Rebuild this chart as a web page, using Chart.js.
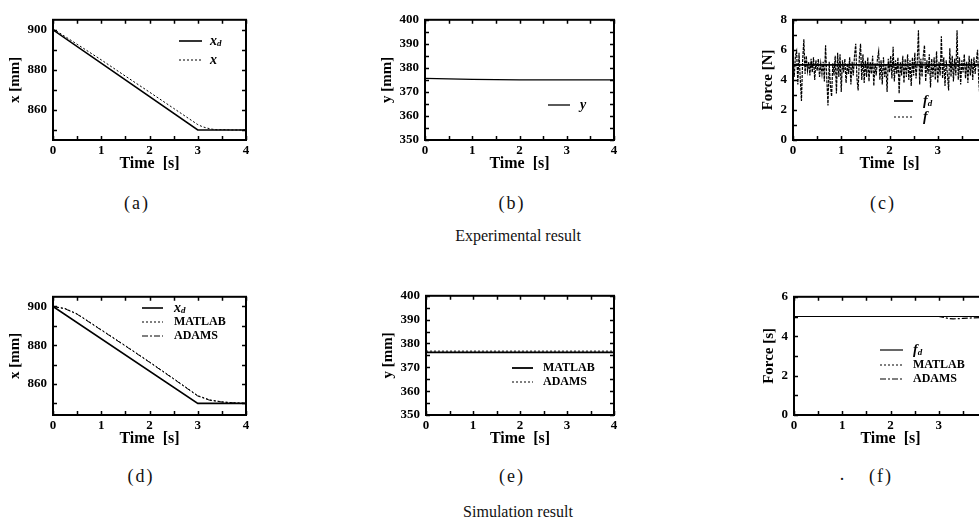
<!DOCTYPE html>
<html>
<head>
<meta charset="utf-8">
<script src="https://cdn.jsdelivr.net/npm/chart.js@4/dist/chart.umd.min.js"></script>
<style>
  html, body { margin: 0; padding: 0; }
  body { width: 979px; height: 530px; overflow: hidden; background: #fff; position: relative; }
  .wrap { position: absolute; }
  .wrap canvas { display: block; }
  .cap { position: absolute; transform: translate(-50%, -50%); font-family: "Liberation Serif", serif; color: #111; white-space: nowrap; }
  .sub { font-size: 18px; letter-spacing: 2px; }
  .grp { font-size: 16px; }
</style>
</head>
<body>
<div id="ca" class="wrap"></div>
<div id="cb" class="wrap"></div>
<div id="cc" class="wrap"></div>
<div id="cd" class="wrap"></div>
<div id="ce" class="wrap"></div>
<div id="cf" class="wrap"></div>

<div class="cap sub" style="left:137px;top:203px">(a)</div>
<div class="cap sub" style="left:512px;top:203px">(b)</div>
<div class="cap sub" style="left:883px;top:203px">(c)</div>
<div class="cap grp" style="left:518px;top:236px">Experimental result</div>
<div class="cap sub" style="left:141px;top:476px">(d)</div>
<div class="cap sub" style="left:512px;top:476px">(e)</div>
<div class="cap sub" style="left:843px;top:474px">.</div>
<div class="cap sub" style="left:881px;top:476px">(f)</div>
<div class="cap grp" style="left:518px;top:512px">Simulation result</div>

<script>
// ---------------- DATA ----------------
// (a) experimental x
const timeXdA = [0, 3, 4];
const xdA = [900, 850, 850];
const timeXA = [0, 0.5, 1, 1.5, 2, 2.5, 3, 3.1, 3.2, 3.3, 3.4, 3.5, 3.7, 4];
const xA = [900.5, 892.8, 885.0, 876.9, 868.9, 860.8, 852.7, 851.6, 850.9, 850.4, 850.1, 850.2, 850.0, 850.0];

// (b) experimental y
const timeYB = [0, 0.5, 1, 1.5, 2, 3, 4];
const yB = [375.6, 375.4, 375.2, 375.1, 375.0, 375.0, 375.0];

// (c) experimental force
const timeFdC = [0, 4];
const fdC = [5, 5];
const forceTimeStep = 0.025;
const fC = [
  4.9, 4.2, 5.6, 5.9, 3.7, 5.8, 4.1, 2.6, 5.3, 6.7,
  4.4, 5.6, 4.6, 5.2, 4.3, 5.4, 4.5, 5.5, 4.0, 5.3,
  4.6, 5.4, 4.2, 5.1, 4.4, 5.2, 3.9, 6.3, 4.1, 2.3,
  5.2, 3.6, 2.9, 5.1, 4.3, 5.6, 3.1, 5.8, 4.2, 5.7,
  3.2, 5.3, 4.5, 5.4, 3.8, 5.1, 4.4, 5.5, 3.7, 5.2,
  4.3, 5.6, 6.4, 4.1, 3.3, 5.5, 6.4, 4.0, 5.7, 3.8,
  5.3, 4.2, 5.5, 3.9, 5.2, 4.4, 5.6, 3.6, 5.1, 4.3,
  5.4, 5.9, 4.0, 5.3, 3.7, 5.5, 4.2, 5.0, 3.2, 5.4,
  4.5, 5.6, 4.1, 6.2, 3.9, 5.3, 4.4, 5.5, 3.1, 5.2,
  4.3, 5.6, 3.8, 5.4, 4.2, 5.7, 4.0, 5.3, 3.6, 5.5,
  4.3, 5.8, 4.1, 5.2, 7.3, 3.7, 5.4, 4.2, 5.6, 6.3,
  3.9, 5.3, 4.4, 5.7, 3.5, 5.4, 4.2, 5.5, 4.0, 5.9,
  3.8, 5.2, 4.3, 6.9, 4.1, 5.5, 3.6, 5.3, 4.4, 3.3,
  6.1, 4.2, 5.6, 3.9, 5.4, 4.3, 7.3, 4.0, 5.5, 3.7,
  5.3, 4.5, 5.7, 4.1, 5.2, 3.8, 5.6, 4.3, 5.4, 4.0,
  5.5, 4.4, 5.3, 6.0, 3.9, 2.8, 5.6, 4.2, 5.4, 4.5,
  5.0
];
const timeFC = fC.map((_, i) => i * forceTimeStep);

// (d) simulation x
const timeXdD = [0, 3, 4];
const xdD = [900, 850, 850];
const timeSimD = [0, 0.25, 0.5, 1, 1.5, 2, 2.5, 3, 3.25, 3.5, 3.75, 4];
const xMatlabD = [900, 899.0, 896.2, 888.0, 879.8, 871.4, 862.8, 854.0, 851.8, 850.8, 850.3, 850.0];
const xAdamsD  = [900, 898.8, 896.0, 887.8, 879.6, 871.2, 862.6, 853.8, 851.6, 850.7, 850.2, 850.0];

// (e) simulation y
const timeSimE = [0, 4];
const yMatlabE = [376.3, 376.3];
const yAdamsE = [376.8, 376.8];

// (f) simulation force
const timeFdF = [0, 4];
const fdF = [5, 5];
const timeMatlabF = [0, 4];
const fMatlabF = [5, 5];
const timeAdamsF = [0, 3.0, 3.1, 3.2, 3.3, 3.5, 3.7, 4];
const fAdamsF = [5, 5, 4.96, 4.9, 4.88, 4.9, 4.93, 4.95];

// tick labels
const timeTicks = [0, 1, 2, 3, 4];
const yTicksA = [860, 880, 900];
const yTicksB = [350, 360, 370, 380, 390, 400];
const yTicksC = [0, 2, 4, 6, 8];
const yTicksD = [860, 880, 900];
const yTicksE = [350, 360, 370, 380, 390, 400];
const yTicksF = [0, 2, 4, 6];

// ---------------- HELPERS ----------------
const PAD = { top: 9, right: 12, bottom: 33 };
const SERIF = '"Liberation Serif", "Times New Roman", serif';
const pts = (xs, ys) => ys.map((v, i) => ({ x: xs[i], y: v }));

function drawLabel(ctx, text, x, y) {
  const parts = text.split('_');
  const base = parts[0], sub = parts[1];
  const isVar = base.length === 1;
  ctx.fillStyle = '#000';
  ctx.textBaseline = 'middle';
  ctx.textAlign = 'left';
  ctx.font = isVar ? 'italic bold 14px ' + SERIF : 'bold 12px ' + SERIF;
  ctx.fillText(base, x, y);
  if (sub) {
    const w = ctx.measureText(base).width;
    ctx.font = 'italic bold 9px ' + SERIF;
    ctx.fillText(sub, x + w, y + 3);
  }
}

const framePlugin = {
  id: 'frame',
  afterDatasetsDraw(chart, args, opts) {
    const { ctx, chartArea: a, scales: { x, y } } = chart;
    ctx.save();
    ctx.strokeStyle = '#000';
    ctx.lineWidth = 1.5;
    ctx.beginPath();
    for (let v = x.min; v <= x.max + 1e-9; v += opts.xStep) {
      const px = Math.round(x.getPixelForValue(v)) + 0.5;
      ctx.moveTo(px, a.bottom); ctx.lineTo(px, a.bottom - 4);
      ctx.moveTo(px, a.top); ctx.lineTo(px, a.top + 4);
    }
    for (let v = opts.yStart; v <= y.max + 1e-9; v += opts.yStep) {
      const py = Math.round(y.getPixelForValue(v)) + 0.5;
      ctx.moveTo(a.left, py); ctx.lineTo(a.left + 4, py);
      ctx.moveTo(a.right, py); ctx.lineTo(a.right - 4, py);
    }
    ctx.stroke();
    ctx.lineWidth = 2;
    ctx.strokeRect(a.left, a.top, a.right - a.left, a.bottom - a.top);
    ctx.restore();
  }
};

const legendPlugin = {
  id: 'inLegend',
  afterDraw(chart, args, opts) {
    const ctx = chart.ctx;
    opts.order.forEach((dsIndex, row) => {
      const ds = chart.data.datasets[dsIndex];
      const yy = opts.rows[row] - opts.oy;
      ctx.save();
      ctx.strokeStyle = '#000';
      ctx.lineWidth = ds.legendWidth || ds.borderWidth;
      ctx.setLineDash(ds.legendDash || ds.borderDash || []);
      ctx.beginPath();
      ctx.moveTo(opts.x1 - opts.ox, yy);
      ctx.lineTo(opts.x2 - opts.ox, yy);
      ctx.stroke();
      ctx.setLineDash([]);
      drawLabel(ctx, ds.label, opts.tx - opts.ox, yy);
      ctx.restore();
    });
  }
};

function makeChart(id, box, cfg) {
  const padLeft = cfg.padLeft;
  const W = box.r - box.l + padLeft + PAD.right;
  const H = box.b - box.t + PAD.top + PAD.bottom;
  const ox = box.l - padLeft, oy = box.t - PAD.top;
  const wrap = document.getElementById(id);
  wrap.style.left = ox + 'px';
  wrap.style.top = oy + 'px';
  const canvas = document.createElement('canvas');
  canvas.width = W; canvas.height = H;
  canvas.style.width = W + 'px'; canvas.style.height = H + 'px';
  wrap.appendChild(canvas);
  const tickFont = { family: SERIF, size: 13, weight: 'bold' };
  const yTicks = cfg.yTicks;
  new Chart(canvas, {
    type: 'scatter',
    data: { datasets: cfg.datasets },
    options: {
      responsive: false,
      animation: false,
      devicePixelRatio: 1,
      layout: { padding: { left: 0, top: PAD.top, right: PAD.right, bottom: 0 }, autoPadding: false },
      elements: { point: { radius: 0, hoverRadius: 0 }, line: { tension: 0 } },
      plugins: {
        legend: { display: false },
        tooltip: { enabled: false },
        frame: { xStep: 0.5, yStart: cfg.markStart, yStep: cfg.markStep },
        inLegend: Object.assign({ ox: ox, oy: oy }, cfg.legend)
      },
      scales: {
        x: {
          type: 'linear', min: 0, max: 4,
          afterBuildTicks: (s) => { s.ticks = timeTicks.map(v => ({ value: v })); },
          ticks: { font: tickFont, color: '#000', padding: 3, maxRotation: 0, autoSkip: false },
          grid: { display: false, drawTicks: false },
          border: { display: false },
          title: { display: true, text: 'Time  [s]', color: '#000',
                   font: { family: SERIF, size: 16, weight: 'bold' }, padding: { top: 0, bottom: 0 } },
          afterFit: (s) => { s.height = PAD.bottom; }
        },
        y: {
          type: 'linear', min: cfg.yMin, max: cfg.yMax,
          afterBuildTicks: (s) => { s.ticks = yTicks.map(v => ({ value: v })); },
          ticks: { font: tickFont, color: '#000', padding: 6, autoSkip: false },
          grid: { display: false, drawTicks: false },
          border: { display: false },
          title: { display: true, text: cfg.yTitle, color: '#000',
                   font: { family: SERIF, size: 15, weight: 'bold' }, padding: { top: 1, bottom: 0 } },
          afterFit: (s) => { s.width = padLeft; }
        }
      }
    },
    plugins: [framePlugin, legendPlugin]
  });
}

const solid = (label, xs, ys, w) => ({ label, data: pts(xs, ys), showLine: true, borderColor: '#000', borderWidth: w || 1.4, pointRadius: 0, fill: false });
const dotted = (label, xs, ys, w) => ({ label, data: pts(xs, ys), showLine: true, borderColor: '#000', borderWidth: w || 1, borderDash: [2, 2], pointRadius: 0, fill: false });
const dashdot = (label, xs, ys, w) => ({ label, data: pts(xs, ys), showLine: true, borderColor: '#000', borderWidth: w || 1, borderDash: [6, 2, 2, 2], pointRadius: 0, fill: false });

// (a)
makeChart('ca', { l: 53, t: 15, r: 246, b: 140 }, {
  padLeft: 48,
  yMin: 845, yMax: 905, yTicks: yTicksA, markStart: 850, markStep: 10, yTitle: 'x [mm]',
  datasets: [solid('x_d', timeXdA, xdA, 1.6), dotted('x', timeXA, xA, 1)],
  legend: { order: [0, 1], rows: [41, 60], x1: 179, x2: 202, tx: 210 }
});
// (b)
makeChart('cb', { l: 425, t: 15, r: 614, b: 140 }, {
  padLeft: 48,
  yMin: 350, yMax: 400, yTicks: yTicksB, markStart: 350, markStep: 5, yTitle: 'y [mm]',
  datasets: [solid('y', timeYB, yB, 1.3)],
  legend: { order: [0], rows: [105], x1: 548, x2: 570, tx: 580 }
});
// (c)
const fdSetC = solid('f_d', timeFdC, fdC, 1.8);
const fSetC = dotted('f', timeFC, fC, 1.2);
fSetC.borderDash = [3, 1];
fSetC.legendDash = [2, 2];
fSetC.legendWidth = 1;
makeChart('cc', { l: 793, t: 15, r: 986, b: 140 }, {
  padLeft: 35,
  yMin: 0, yMax: 8, yTicks: yTicksC, markStart: 0, markStep: 1, yTitle: 'Force [N]',
  datasets: [fdSetC, fSetC],
  legend: { order: [0, 1], rows: [101, 117], x1: 894, x2: 913, tx: 923 }
});
// (d)
makeChart('cd', { l: 53, t: 292, r: 246, b: 415 }, {
  padLeft: 48,
  yMin: 844, yMax: 905, yTicks: yTicksD, markStart: 850, markStep: 10, yTitle: 'x [mm]',
  datasets: [solid('x_d', timeXdD, xdD, 1.6), dotted('MATLAB', timeSimD, xMatlabD, 1), dashdot('ADAMS', timeSimD, xAdamsD, 1)],
  legend: { order: [0, 1, 2], rows: [308, 322, 336], x1: 142, x2: 163, tx: 174 }
});
// (e)
makeChart('ce', { l: 426, t: 291, r: 614, b: 415 }, {
  padLeft: 48,
  yMin: 350, yMax: 400, yTicks: yTicksE, markStart: 350, markStep: 5, yTitle: 'y [mm]',
  datasets: [solid('MATLAB', timeSimE, yMatlabE, 1.8), dotted('ADAMS', timeSimE, yAdamsE, 1)],
  legend: { order: [0, 1], rows: [368, 382], x1: 512, x2: 533, tx: 543 }
});
// (f)
makeChart('cf', { l: 794, t: 292, r: 987, b: 415 }, {
  padLeft: 35,
  yMin: 0, yMax: 6, yTicks: yTicksF, markStart: 0, markStep: 1, yTitle: 'Force [s]',
  datasets: [solid('f_d', timeFdF, fdF, 1.2), dotted('MATLAB', timeMatlabF, fMatlabF, 1), dashdot('ADAMS', timeAdamsF, fAdamsF, 1.2)],
  legend: { order: [0, 1, 2], rows: [350, 365, 379], x1: 880, x2: 903, tx: 913 }
});
</script>
</body>
</html>
